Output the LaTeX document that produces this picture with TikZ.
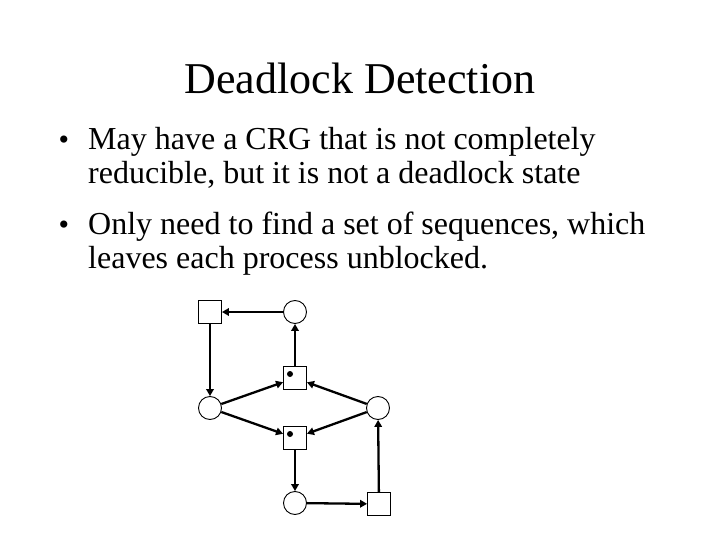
\documentclass[tikz,border=0pt]{standalone}
\usepackage{fontspec}
\setmainfont{Liberation Serif}
\usetikzlibrary{arrows.meta}
\begin{document}
\begin{tikzpicture}[x=1pt,y=-1pt,
  proc/.style={circle,draw,line width=0.9pt,minimum size=23pt,inner sep=0pt},
  res/.style={rectangle,draw,line width=0.9pt,minimum size=23pt,inner sep=0pt},
  edge/.style={line width=2.3pt,-{Triangle[length=7pt,width=7.5pt]}},
  tok/.style={circle,fill,inner sep=0pt,minimum size=6pt},
  body/.style={anchor=base west,inner sep=0pt,font=\fontsize{32}{36}\selectfont},
  bul/.style={anchor=base,inner sep=0pt,font=\fontsize{30}{32}\selectfont}]
\useasboundingbox[fill=white] (0,0) rectangle (720,540);
\node[anchor=base,inner sep=0pt,font=\fontsize{44}{50}\selectfont] (title) at (360,94) {Deadlock Detection};
\node[bul] (b1) at (64,150) {•};
\node[body] (t1) at (88,150) {May have a CRG that is not completely};
\node[body] (t2) at (88,184) {reducible, but it is not a deadlock state};
\node[bul] (b2) at (64,234) {•};
\node[body] (t3) at (88,234) {Only need to find a set of sequences, which};
\node[body] (t4) at (88,268) {leaves each process unblocked.};
% graph
\node[res] (R1) at (210,312) {};
\node[proc] (P1) at (295,312) {};
\node[res] (R2) at (295,378) {};
\node[proc] (P2) at (210,408) {};
\node[proc] (P3) at (378,408) {};
\node[res] (R3) at (295,438) {};
\node[proc] (P4) at (295,503) {};
\node[res] (R4) at (379,504) {};
\node[tok] (k2) at (290,374) {};
\node[tok] (k3) at (290,434) {};
\draw[edge] (P1) -- (R1);
\draw[edge] (R1) -- (P2);
\draw[edge] (P2) -- (R2);
\draw[edge] (P2) -- (R3);
\draw[edge] (R2) -- (P1);
\draw[edge] (P3) -- (R2);
\draw[edge] (P3) -- (R3);
\draw[edge] (R3) -- (P4);
\draw[edge] (P4) -- (R4);
\draw[edge] (R4) -- (P3);
\end{tikzpicture}
\end{document}
